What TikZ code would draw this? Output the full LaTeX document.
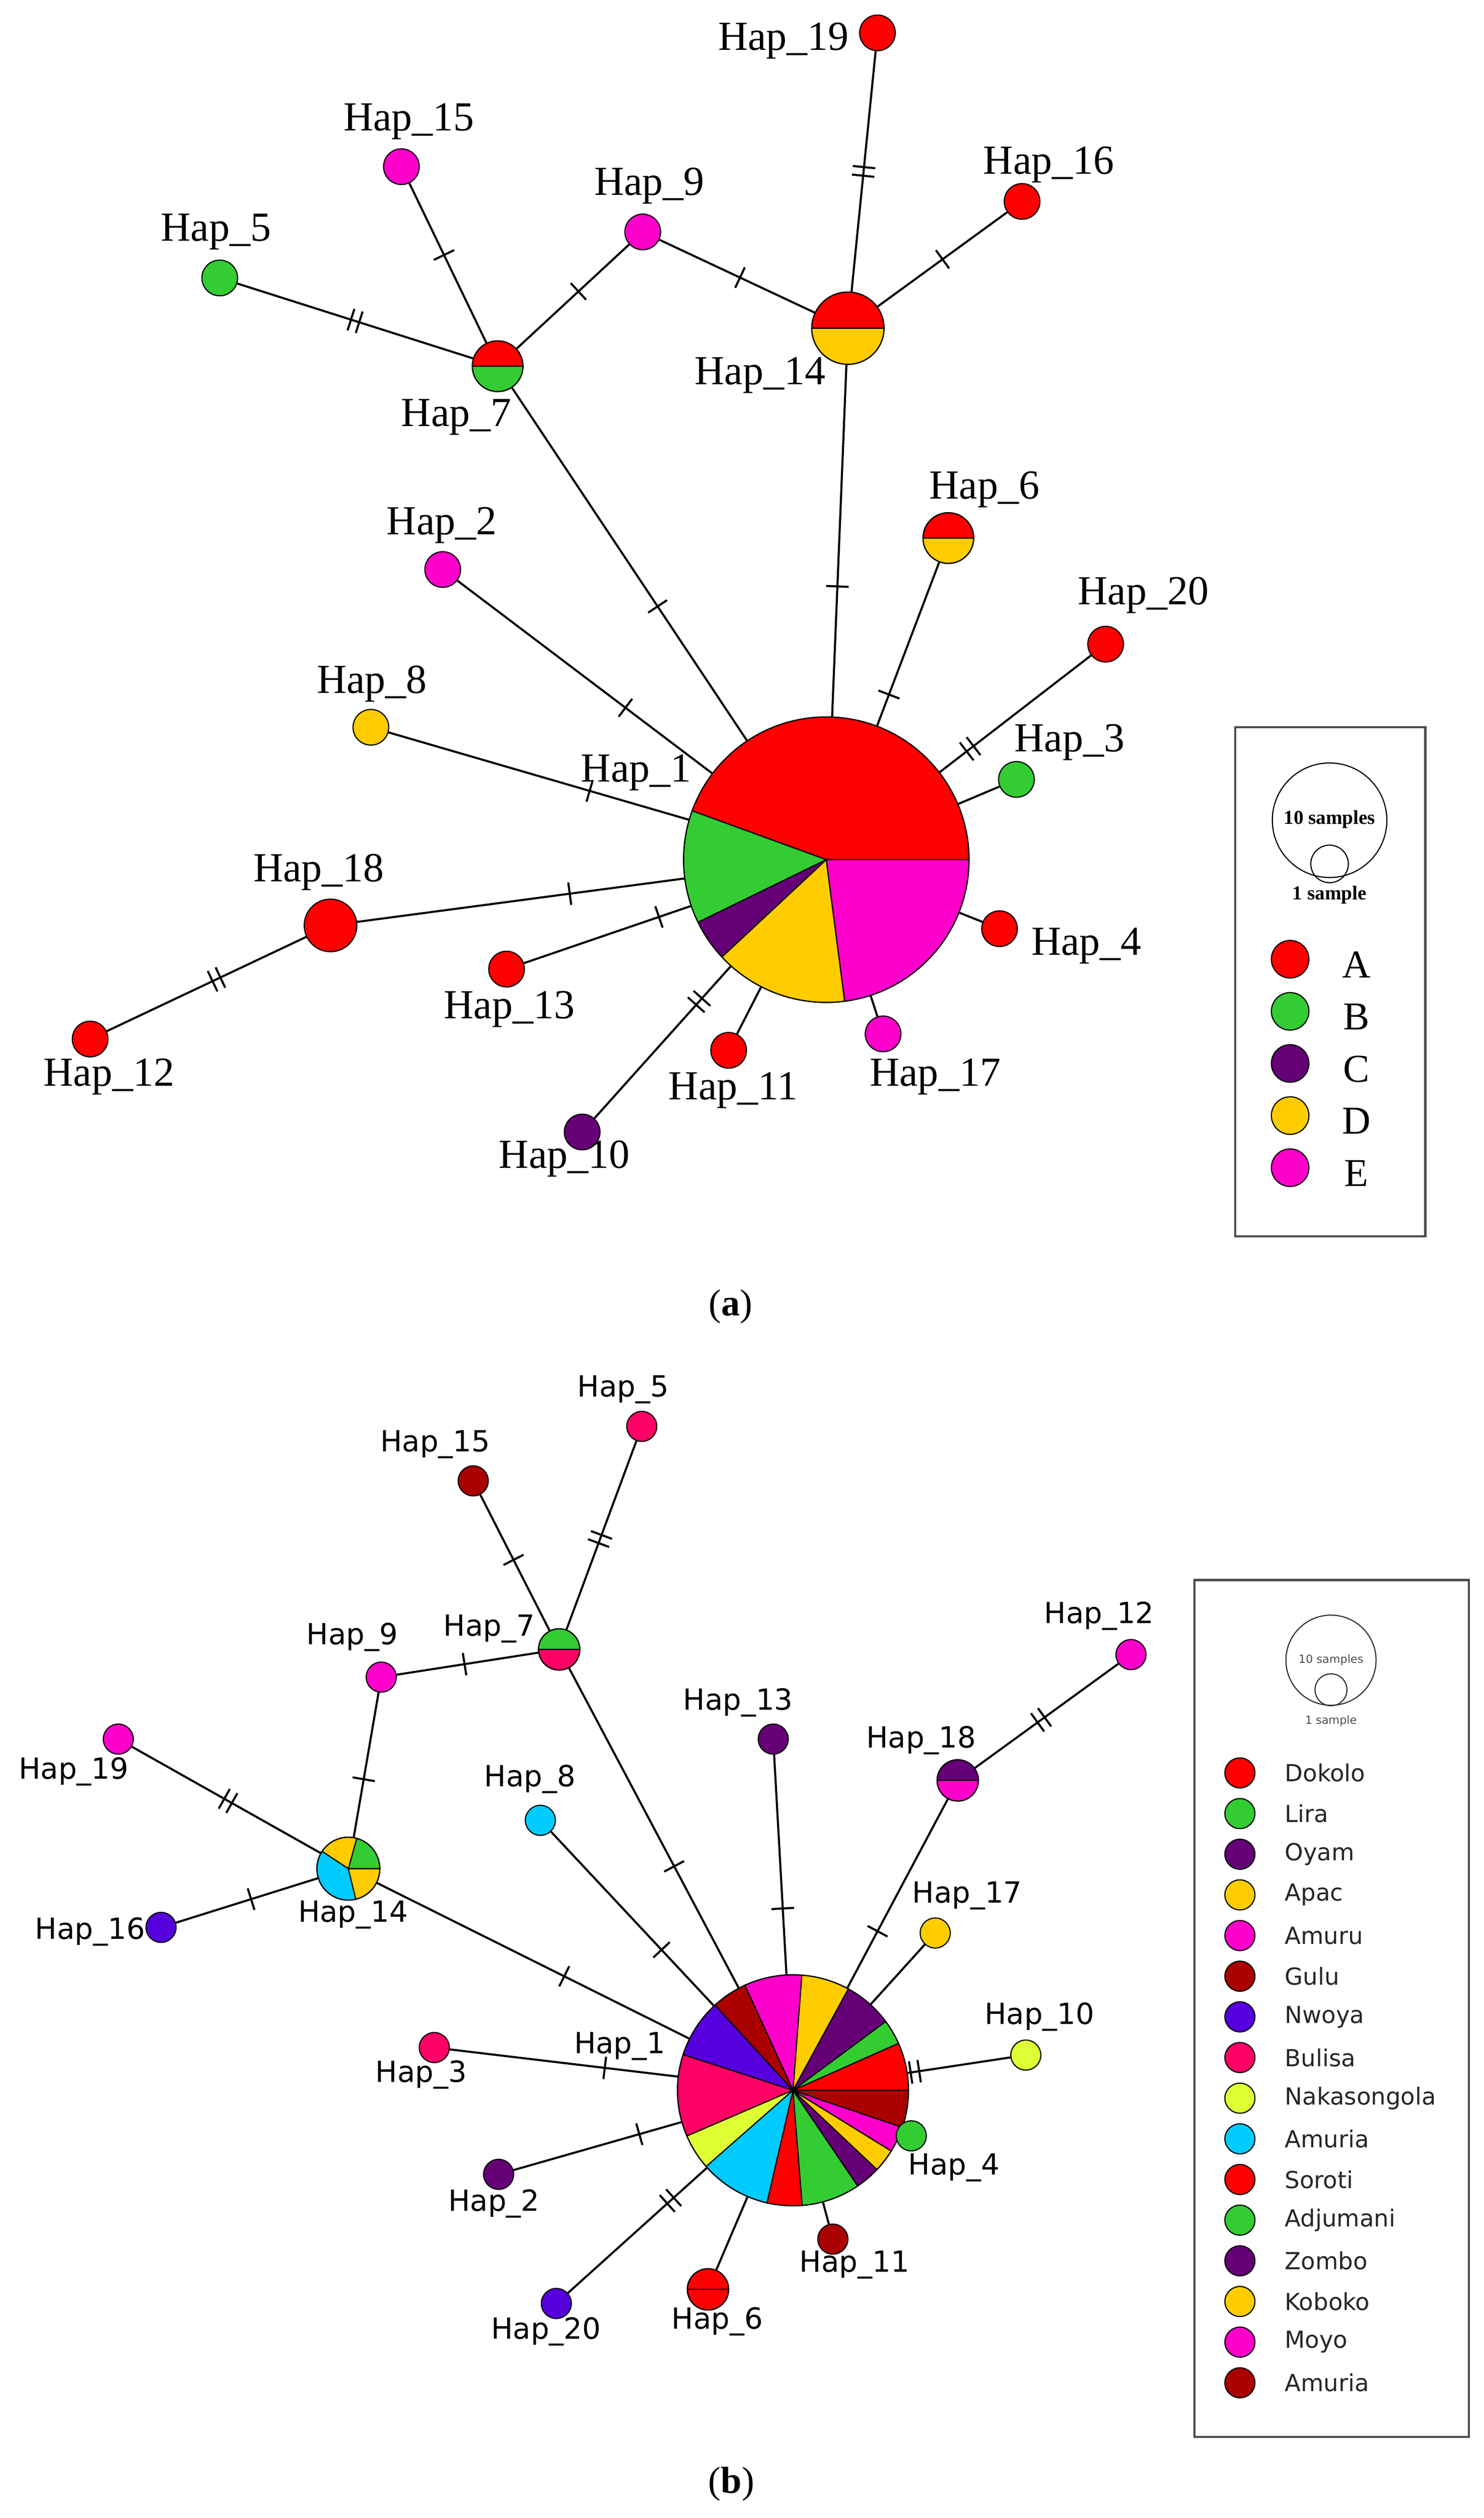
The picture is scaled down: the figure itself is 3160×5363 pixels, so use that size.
\documentclass[tikz,border=0pt]{standalone}
\usepackage{fontspec}
\setmainfont{Liberation Serif}
\newfontfamily\dv{DejaVu Sans}
\usetikzlibrary{decorations.markings,backgrounds}
\definecolor{cA}{HTML}{FF0000}
\definecolor{cB}{HTML}{33CC33}
\definecolor{cC}{HTML}{660077}
\definecolor{cD}{HTML}{FFCC00}
\definecolor{cE}{HTML}{FF00CC}
\definecolor{cG}{HTML}{AA0000}
\definecolor{cN}{HTML}{5500DD}
\definecolor{cBu}{HTML}{FF0066}
\definecolor{cY}{HTML}{DDFF33}
\definecolor{cCy}{HTML}{00CCFF}
\newcommand\myslice[5]{\filldraw[fill=#5,draw=black,line width=0.6pt] (#1) -- ++(#3:#2) arc[start angle=#3,end angle=#4,radius=#2] -- cycle;}
\tikzset{
 edge/.style={line width=1.1pt},
 tk/.style={postaction={decorate,decoration={markings,mark=at position #1 with {\draw[line width=1.1pt] (0,-6pt)--(0,6pt);}}}},
 dtk/.style={postaction={decorate,decoration={markings,mark=at position #1 with {\draw[line width=1.1pt] (-2.3pt,-6pt)--(-2.3pt,6pt) (2.3pt,-6pt)--(2.3pt,6pt);}}}},
 hp/.style={circle,draw=black,line width=0.6pt,inner sep=0pt},
 da/.style={hp,minimum size=19pt},
 db/.style={hp,minimum size=16pt},
 la/.style={font=\fontsize{22}{24}\selectfont},
 lb/.style={font=\dv\fontsize{15.5}{17}\selectfont},
}
\begin{document}
\begin{tikzpicture}[x=0.25pt,y=-0.25pt]
\useasboundingbox (0,0) rectangle (3160,5363);
% ================= panel (a) =================
\myslice{1760,1831}{76pt}{0}{160}{cA}
\myslice{1760,1831}{76pt}{160}{206}{cB}
\myslice{1760,1831}{76pt}{206}{223}{cC}
\myslice{1760,1831}{76pt}{223}{277.4}{cD}
\myslice{1760,1831}{76pt}{277.4}{360}{cE}
\node[hp,minimum size=152pt] (a1) at (1760,1831) {};
\myslice{1806,699}{19.25pt}{0}{180}{cA}
\myslice{1806,699}{19.25pt}{180}{360}{cD}
\node[hp,minimum size=38.5pt] (a14) at (1806,699) {};
\myslice{1060,780}{13.5pt}{0}{180}{cA}
\myslice{1060,780}{13.5pt}{180}{360}{cB}
\node[hp,minimum size=27pt] (a7) at (1060,780) {};
\myslice{2020,1146}{13.5pt}{0}{180}{cA}
\myslice{2020,1146}{13.5pt}{180}{360}{cD}
\node[hp,minimum size=27pt] (a6) at (2020,1146) {};
\node[hp,fill=cA,minimum size=28pt] (a18) at (704,1971) {};
\node[da,fill=cA] (a19) at (1869,70) {};
\node[da,fill=cA] (a16) at (2177,429) {};
\node[da,fill=cE] (a9) at (1369,494) {};
\node[da,fill=cE] (a15) at (855,355) {};
\node[da,fill=cB] (a5) at (468,592) {};
\node[da,fill=cE] (a2) at (943,1213) {};
\node[da,fill=cD] (a8) at (790,1549) {};
\node[da,fill=cA] (a12) at (192,2213) {};
\node[da,fill=cA] (a13) at (1079,2064) {};
\node[da,fill=cC] (a10) at (1240,2411) {};
\node[da,fill=cA] (a11) at (1552,2237) {};
\node[da,fill=cE] (a17) at (1881,2202) {};
\node[da,fill=cA] (a4) at (2129,1978) {};
\node[da,fill=cB] (a3) at (2165,1660) {};
\node[da,fill=cA] (a20) at (2355,1372) {};
\begin{pgfonlayer}{background}
\draw[edge,tk=0.63] (a14) -- (a1);
\draw[edge,dtk=0.5] (a19) -- (a14);
\draw[edge,tk=0.5] (a16) -- (a14);
\draw[edge,tk=0.52] (a9) -- (a14);
\draw[edge,tk=0.55] (a7) -- (a9);
\draw[edge,tk=0.45] (a15) -- (a7);
\draw[edge,dtk=0.5] (a5) -- (a7);
\draw[edge,tk=0.62] (a7) -- (a1);
\draw[edge,tk=0.66] (a2) -- (a1);
\draw[edge,tk=0.67] (a8) -- (a1);
\draw[edge,tk=0.65] (a18) -- (a1);
\draw[edge,dtk=0.55] (a12) -- (a18);
\draw[edge,tk=0.81] (a13) -- (a1);
\draw[edge,dtk=0.77] (a10) -- (a1);
\draw[edge] (a11) -- (a1);
\draw[edge] (a17) -- (a1);
\draw[edge] (a4) -- (a1);
\draw[edge] (a3) -- (a1);
\draw[edge,dtk=0.8] (a20) -- (a1);
\draw[edge,tk=0.81] (a6) -- (a1);
\end{pgfonlayer}
\node[la] (la1) at (1355,1646) {Hap\_1};
\node[la] (la14) at (1619,799) {Hap\_14};
\node[la] (la19) at (1669,87) {Hap\_19};
\node[la] (la16) at (2234,351) {Hap\_16};
\node[la] (la9) at (1383,396) {Hap\_9};
\node[la] (la15) at (871,259) {Hap\_15};
\node[la] (la5) at (460,494) {Hap\_5};
\node[la] (la7) at (972,888) {Hap\_7};
\node[la] (la2) at (941,1119) {Hap\_2};
\node[la] (la8) at (792,1457) {Hap\_8};
\node[la] (la18) at (679,1858) {Hap\_18};
\node[la] (la12) at (232,2293) {Hap\_12};
\node[la] (la13) at (1085,2150) {Hap\_13};
\node[la] (la10) at (1202,2468) {Hap\_10};
\node[la] (la11) at (1562,2322) {Hap\_11};
\node[la] (la17) at (1992,2293) {Hap\_17};
\node[la] (la4) at (2314,2015) {Hap\_4};
\node[la] (la3) at (2278,1581) {Hap\_3};
\node[la] (la20) at (2435,1268) {Hap\_20};
\node[la] (la6) at (2097,1043) {Hap\_6};
% legend (a)
\node[draw=black!70,line width=1.2pt,minimum width=101.25pt,minimum height=271pt,inner sep=0pt] (lega) at (2833.5,2091) {};
\node[hp,minimum size=61pt] (sa10) at (2832,1747) {};
\node[hp,minimum size=20pt] (sa1) at (2832,1840) {};
\node[font=\bfseries\fontsize{10.5}{12}\selectfont] (ta10) at (2832,1745) {10 samples};
\node[font=\bfseries\fontsize{10.5}{12}\selectfont] (ta1) at (2832,1906) {1 sample};
\foreach \c/\l/\y in {cA/A/2043,cB/B/2154,cC/C/2265,cD/D/2376,cE/E/2487}{
  \node[hp,fill=\c,minimum size=20pt] (ka\l) at (2748,\y) {};
  \node[font=\fontsize{21}{23}\selectfont] (kt\l) at (2889,\y+12) {\l};
}
\node[font=\fontsize{20}{22}\selectfont] (capa) at (1556,2783) {(\textbf{a})};
% ================= panel (b) =================
\foreach \a/\b/\c in {0/24/cA,24/36.6/cB,36.6/61.4/cC,61.4/85.6/cD,85.6/114.6/cE,114.6/132.5/cG,132.5/162/cN,162/203.3/cBu,203.3/221.3/cY,221.3/257/cCy,257/274.6/cA,274.6/304.1/cB,304.1/316.7/cC,316.7/328.3/cD,328.3/341.3/cE,341.3/360/cG}{
  \myslice{1689,4452}{61.5pt}{\a}{\b}{\c}
}
\node[hp,minimum size=123pt] (b1) at (1689,4452) {};
\myslice{742,3980}{16.75pt}{0}{74.6}{cB}
\myslice{742,3980}{16.75pt}{74.6}{146.7}{cD}
\myslice{742,3980}{16.75pt}{146.7}{283.7}{cCy}
\myslice{742,3980}{16.75pt}{283.7}{360}{cD}
\node[hp,minimum size=33.5pt] (b14) at (742,3980) {};
\myslice{1191,3513}{11pt}{0}{180}{cB}
\myslice{1191,3513}{11pt}{180}{360}{cBu}
\node[hp,minimum size=22pt] (b7) at (1191,3513) {};
\myslice{2040,3792}{11pt}{0}{180}{cC}
\myslice{2040,3792}{11pt}{180}{360}{cE}
\node[hp,minimum size=22pt] (b18) at (2040,3792) {};
\myslice{1508,4876}{11pt}{0}{180}{cA}
\myslice{1508,4876}{11pt}{180}{360}{cA}
\node[hp,minimum size=22pt] (b6) at (1508,4876) {};
\node[db,fill=cBu] (b5) at (1367,3038) {};
\node[db,fill=cG] (b15) at (1008,3154) {};
\node[db,fill=cE] (b9) at (812,3572) {};
\node[db,fill=cE] (b19) at (252,3704) {};
\node[db,fill=cN] (b16) at (343,4105) {};
\node[db,fill=cCy] (b8) at (1151,3877) {};
\node[db,fill=cC] (b13) at (1647,3704) {};
\node[db,fill=cE] (b12) at (2409,3524) {};
\node[db,fill=cD] (b17) at (1992,4117) {};
\node[db,fill=cY] (b10) at (2185,4377) {};
\node[db,fill=cB] (b4) at (1941,4549) {};
\node[db,fill=cG] (b11) at (1774,4769) {};
\node[db,fill=cN] (b20) at (1185,4906) {};
\node[db,fill=cC] (b2) at (1062,4631) {};
\node[db,fill=cBu] (b3) at (925,4361) {};
\begin{pgfonlayer}{background}
\draw[edge,tk=0.48] (b15) -- (b7);
\draw[edge,dtk=0.52] (b5) -- (b7);
\draw[edge,tk=0.48] (b9) -- (b7);
\draw[edge,tk=0.62] (b7) -- (b1);
\draw[edge,tk=0.6] (b9) -- (b14);
\draw[edge,dtk=0.51] (b19) -- (b14);
\draw[edge,tk=0.53] (b16) -- (b14);
\draw[edge,tk=0.6] (b14) -- (b1);
\draw[edge,tk=0.68] (b8) -- (b1);
\draw[edge,tk=0.7] (b13) -- (b1);
\draw[edge,tk=0.7] (b18) -- (b1);
\draw[edge,dtk=0.54] (b12) -- (b18);
\draw[edge] (b17) -- (b1);
\draw[edge,dtk=0.93] (b10) -- (b1);
\draw[edge] (b4) -- (b1);
\draw[edge] (b11) -- (b1);
\draw[edge] (b6) -- (b1);
\draw[edge,dtk=0.74] (b20) -- (b1);
\draw[edge,tk=0.75] (b2) -- (b1);
\draw[edge,tk=0.68] (b3) -- (b1);
\end{pgfonlayer}
\node[lb] (lb1) at (1320,4358) {Hap\_1};
\node[lb] (lb5) at (1327,2960) {Hap\_5};
\node[lb] (lb15) at (927,3076) {Hap\_15};
\node[lb] (lb7) at (1042,3469) {Hap\_7};
\node[lb] (lb9) at (750,3487) {Hap\_9};
\node[lb] (lb19) at (157,3773) {Hap\_19};
\node[lb] (lb14) at (752,4078) {Hap\_14};
\node[lb] (lb16) at (192,4114) {Hap\_16};
\node[lb] (lb8) at (1129,3789) {Hap\_8};
\node[lb] (lb13) at (1572,3626) {Hap\_13};
\node[lb] (lb18) at (1962,3707) {Hap\_18};
\node[lb] (lb12) at (2341,3442) {Hap\_12};
\node[lb] (lb17) at (2060,4037) {Hap\_17};
\node[lb] (lb10) at (2214,4296) {Hap\_10};
\node[lb] (lb4) at (2032,4617) {Hap\_4};
\node[lb] (lb11) at (1820,4824) {Hap\_11};
\node[lb] (lb6) at (1528,4945) {Hap\_6};
\node[lb] (lb20) at (1163,4966) {Hap\_20};
\node[lb] (lb2) at (1052,4694) {Hap\_2};
\node[lb] (lb3) at (897,4419) {Hap\_3};
% legend (b)
\node[draw=black!70,line width=1.2pt,minimum width=146.25pt,minimum height=456.25pt,inner sep=0pt] (legb) at (2836.5,4277.5) {};
\node[hp,draw=black!80,minimum size=48pt] (sb10) at (2835,3536) {};
\node[hp,draw=black!80,minimum size=17pt] (sb1) at (2835,3599) {};
\node[font=\dv\fontsize{6}{7}\selectfont,text=black!70] (tb10) at (2835,3536) {10 samples};
\node[font=\dv\fontsize{6}{7}\selectfont,text=black!70] (tb1) at (2835,3665) {1 sample};
\foreach \c/\l [count=\i from 0] in {cA/Dokolo,cB/Lira,cC/Oyam,cD/Apac,cE/Amuru,cG/Gulu,cN/Nwoya,cBu/Bulisa,cY/Nakasongola,cCy/Amuria,cA/Soroti,cB/Adjumani,cC/Zombo,cD/Koboko,cE/Moyo,cG/Amuria}{
  \node[hp,fill=\c,minimum size=16pt] (kb\i) at (2641,3776+86.6*\i) {};
  \node[anchor=west,font=\dv\fontsize{12.5}{14}\selectfont,text=black!85,inner sep=0pt] (kbt\i) at (2736,3776+86.6*\i) {\l};
}
\node[font=\fontsize{20}{22}\selectfont] (capb) at (1558,5291) {(\textbf{b})};
\end{tikzpicture}
\end{document}
